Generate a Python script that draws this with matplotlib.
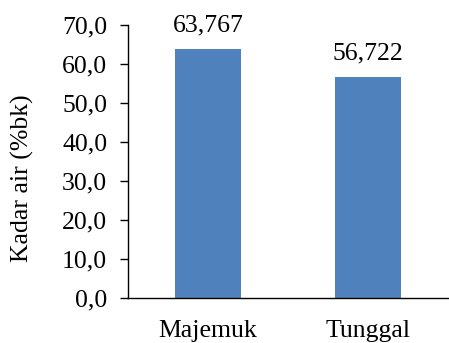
import matplotlib.pyplot as plt

categories = ["Majemuk", "Tunggal"]
kadar_air = [63.767, 56.722]
bar_labels = ["63,767", "56,722"]
y_ticks = [0, 10, 20, 30, 40, 50, 60, 70]

plt.rcParams["font.family"] = ["Liberation Serif", "DejaVu Serif"]
FS = 18.5

fig = plt.figure(figsize=(4.49, 3.43), dpi=100)
W, H = 449, 343
ax = fig.add_axes([128 / W, (H - 298) / H, (448 - 128) / W, (298 - 25) / H])

x = range(len(categories))
bars = ax.bar(x, kadar_air, width=0.41, color="#4F81BD")

for b, lab in zip(bars, bar_labels):
    ax.annotate(lab, (b.get_x() + b.get_width() / 2, b.get_height()),
                xytext=(0, 9), textcoords="offset points",
                ha="center", va="bottom", fontsize=FS)

ax.set_xlim(-0.5, 1.5)
ax.set_ylim(0, 70)
ax.set_yticks(y_ticks)
ax.set_yticklabels([f"{v:.1f}".replace(".", ",") for v in y_ticks], fontsize=FS)
ax.set_xticks(list(x))
ax.set_xticklabels(categories, fontsize=FS)
ax.tick_params(axis="x", length=0, pad=16)
ax.tick_params(axis="y", length=6, width=1, direction="out", pad=9)
ax.set_ylabel("Kadar air (%bk)", fontsize=FS)
ax.yaxis.set_label_coords(-0.295, 0.44)

for s in ["top", "right"]:
    ax.spines[s].set_visible(False)
for s in ["left", "bottom"]:
    ax.spines[s].set_linewidth(1)

fig.savefig("out.png", dpi=100)
